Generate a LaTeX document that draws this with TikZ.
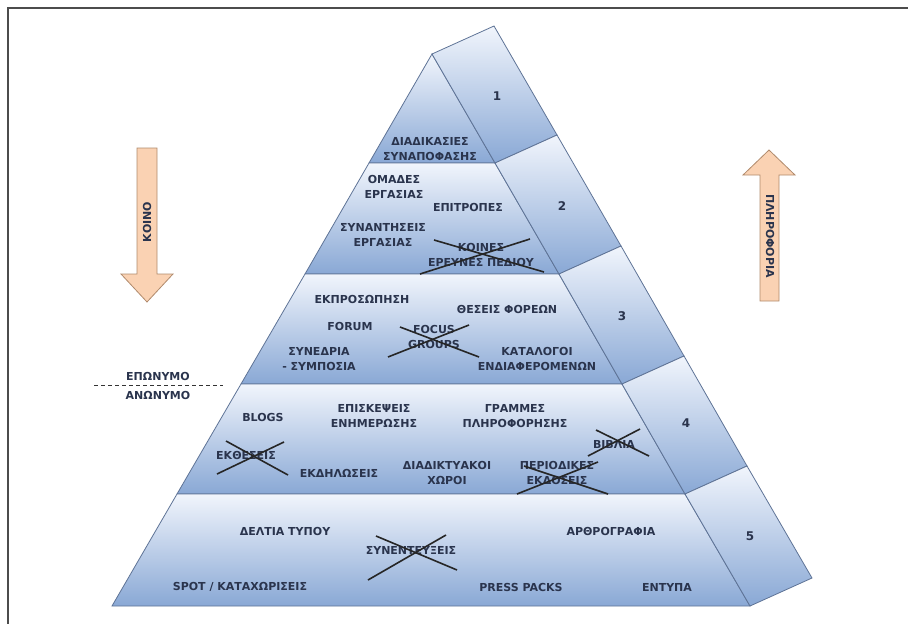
\documentclass[tikz,border=0pt]{standalone}
\usepackage{fontspec}
\setmainfont{DejaVu Sans}[BoldFont=DejaVu Sans Bold]
\usetikzlibrary{calc}

\definecolor{pyrTop}{HTML}{F1F5FC}
\definecolor{pyrBot}{HTML}{89A8D5}
\definecolor{pyrLine}{HTML}{5E7396}
\definecolor{txtDark}{HTML}{2A344D}
\definecolor{arrowFill}{HTML}{FAD2B3}
\definecolor{arrowLine}{HTML}{B08A6C}

\tikzset{
  lvl/.style={top color=pyrTop, bottom color=pyrBot, draw=pyrLine, line width=0.8pt},
  lbl/.style={font=\fontsize{11}{14.5}\selectfont\bfseries, text=txtDark, align=center, inner sep=0pt},
  num/.style={font=\fontsize{12}{14}\selectfont\bfseries, text=txtDark, inner sep=0pt},
  cross/.style={line width=1.6pt, black!85},
  bigarrow/.style={fill=arrowFill, draw=arrowLine, line width=0.8pt}
}

\begin{document}
\begin{tikzpicture}[x=1pt,y=-1pt]
  \useasboundingbox (0,0) rectangle (908,624);
  % frame
  \draw[line width=1.2pt, black!70] (8,624) -- (8,8) -- (908,8);

  % front face corners
  \coordinate (f0) at (432,54);
  \coordinate (fl1) at (369,163);   \coordinate (fr1) at (495,163);
  \coordinate (fl2) at (305,274);   \coordinate (fr2) at (559,274);
  \coordinate (fl3) at (241,384);   \coordinate (fr3) at (622,384);
  \coordinate (fl4) at (177,494);   \coordinate (fr4) at (685,494);
  \coordinate (fl5) at (112,606);   \coordinate (fr5) at (750,606);
  % back edge
  \coordinate (b0) at (494,26);
  \coordinate (b1) at (557,135);
  \coordinate (b2) at (621,246);
  \coordinate (b3) at (684,356);
  \coordinate (b4) at (747,466);
  \coordinate (b5) at (812,578);

  % levels
  \draw[lvl] (f0) -- (fl1) -- (fr1) -- cycle;
  \draw[lvl] (fl1) -- (fl2) -- (fr2) -- (fr1) -- cycle;
  \draw[lvl] (fl2) -- (fl3) -- (fr3) -- (fr2) -- cycle;
  \draw[lvl] (fl3) -- (fl4) -- (fr4) -- (fr3) -- cycle;
  \draw[lvl] (fl4) -- (fl5) -- (fr5) -- (fr4) -- cycle;
  % side panels
  \draw[lvl] (f0) -- (fr1) -- (b1) -- (b0) -- cycle;
  \draw[lvl] (fr1) -- (fr2) -- (b2) -- (b1) -- cycle;
  \draw[lvl] (fr2) -- (fr3) -- (b3) -- (b2) -- cycle;
  \draw[lvl] (fr3) -- (fr4) -- (b4) -- (b3) -- cycle;
  \draw[lvl] (fr4) -- (fr5) -- (b5) -- (b4) -- cycle;

  % panel numbers
  \node[num] (n1) at (497,96) {1};
  \node[num] (n2) at (562,206) {2};
  \node[num] (n3) at (622,316) {3};
  \node[num] (n4) at (686,423) {4};
  \node[num] (n5) at (750,536) {5};

  % level 1
  \node[lbl] (synap) at (430,149) {ΔΙΑΔΙΚΑΣΙΕΣ\\ΣΥΝΑΠΟΦΑΣΗΣ};
  % level 2
  \node[lbl] (omades) at (394,187) {ΟΜΑΔΕΣ\\ΕΡΓΑΣΙΑΣ};
  \node[lbl] (epitr) at (468,207) {ΕΠΙΤΡΟΠΕΣ};
  \node[lbl] (synant) at (383,235) {ΣΥΝΑΝΤΗΣΕΙΣ\\ΕΡΓΑΣΙΑΣ};
  \node[lbl] (erevnes) at (481,255) {ΚΟΙΝΕΣ\\ΕΡΕΥΝΕΣ ΠΕΔΙΟΥ};
  % level 3
  \node[lbl] (ekpr) at (362,299) {ΕΚΠΡΟΣΩΠΗΣΗ};
  \node[lbl] (theseis) at (507,309) {ΘΕΣΕΙΣ ΦΟΡΕΩΝ};
  \node[lbl] (forum) at (350,326) {FORUM};
  \node[lbl] (focus) at (434,337) {FOCUS\\GROUPS};
  \node[lbl] (synedr) at (319,359) {ΣΥΝΕΔΡΙΑ\\- ΣΥΜΠΟΣΙΑ};
  \node[lbl] (katal) at (537,359) {ΚΑΤΑΛΟΓΟΙ\\ΕΝΔΙΑΦΕΡΟΜΕΝΩΝ};
  % level 4
  \node[lbl] (blogs) at (263,417) {BLOGS};
  \node[lbl] (episk) at (374,416) {ΕΠΙΣΚΕΨΕΙΣ\\ΕΝΗΜΕΡΩΣΗΣ};
  \node[lbl] (gramm) at (515,416) {ΓΡΑΜΜΕΣ\\ΠΛΗΡΟΦΟΡΗΣΗΣ};
  \node[lbl] (ektheseis) at (246,455) {ΕΚΘΕΣΕΙΣ};
  \node[lbl] (ekdil) at (339,473) {ΕΚΔΗΛΩΣΕΙΣ};
  \node[lbl] (diadikt) at (447,473) {ΔΙΑΔΙΚΤΥΑΚΟΙ\\ΧΩΡΟΙ};
  \node[lbl] (vivlia) at (614,444) {ΒΙΒΛΙΑ};
  \node[lbl] (period) at (557,473) {ΠΕΡΙΟΔΙΚΕΣ\\ΕΚΔΟΣΕΙΣ};
  % level 5
  \node[lbl] (deltia) at (285,531) {ΔΕΛΤΙΑ ΤΥΠΟΥ};
  \node[lbl] (synent) at (411,550) {ΣΥΝΕΝΤΕΥΞΕΙΣ};
  \node[lbl] (arthro) at (611,531) {ΑΡΘΡΟΓΡΑΦΙΑ};
  \node[lbl] (spot) at (240,587) {SPOT / ΚΑΤΑΧΩΡΙΣΕΙΣ};
  \node[lbl] (press) at (521,587) {PRESS PACKS};
  \node[lbl] (entypa) at (667,587) {ΕΝΤΥΠΑ};

  % crossed out items
  \draw[cross] ($(erevnes)+(-61,19)$) -- ($(erevnes)+(49,-16)$);
  \draw[cross] ($(erevnes)+(-47,-15)$) -- ($(erevnes)+(63,17)$);
  \draw[cross] ($(focus)+(-46,20)$) -- ($(focus)+(35,-12)$);
  \draw[cross] ($(focus)+(-34,-10)$) -- ($(focus)+(45,20)$);
  \draw[cross] ($(ektheseis)+(-29,19)$) -- ($(ektheseis)+(38,-13)$);
  \draw[cross] ($(ektheseis)+(-20,-14)$) -- ($(ektheseis)+(42,20)$);
  \draw[cross] ($(vivlia)+(-26,12)$) -- ($(vivlia)+(26,-15)$);
  \draw[cross] ($(vivlia)+(-18,-14)$) -- ($(vivlia)+(35,12)$);
  \draw[cross] ($(period)+(-40,21)$) -- ($(period)+(41,-11)$);
  \draw[cross] ($(period)+(-33,-7)$) -- ($(period)+(51,21)$);
  \draw[cross] ($(synent)+(-43,30)$) -- ($(synent)+(35,-15)$);
  \draw[cross] ($(synent)+(-35,-14)$) -- ($(synent)+(46,20)$);

  % side arrows
  \draw[bigarrow] (137,148) -- (157,148) -- (157,274) -- (173,274) -- (147,302)
    -- (121,274) -- (137,274) -- cycle;
  \node[lbl, rotate=90] (koino) at (147,222) {ΚΟΙΝΟ};
  \draw[bigarrow] (760,301) -- (779,301) -- (779,175) -- (795,175) -- (769,150)
    -- (743,175) -- (760,175) -- cycle;
  \node[lbl, rotate=-90] (plir) at (770,236) {ΠΛΗΡΟΦΟΡΙΑ};

  % named / anonymous split
  \node[lbl] (eponymo) at (158,376) {ΕΠΩΝΥΜΟ};
  \node[lbl] (anonymo) at (158,395) {ΑΝΩΝΥΜΟ};
  \coordinate (splitL) at (94,385);
  \coordinate (splitR) at (223,385);
  \draw[black!80, line width=0.9pt, dash pattern=on 4pt off 3pt] (splitL) -- (splitR);
\end{tikzpicture}
\end{document}
